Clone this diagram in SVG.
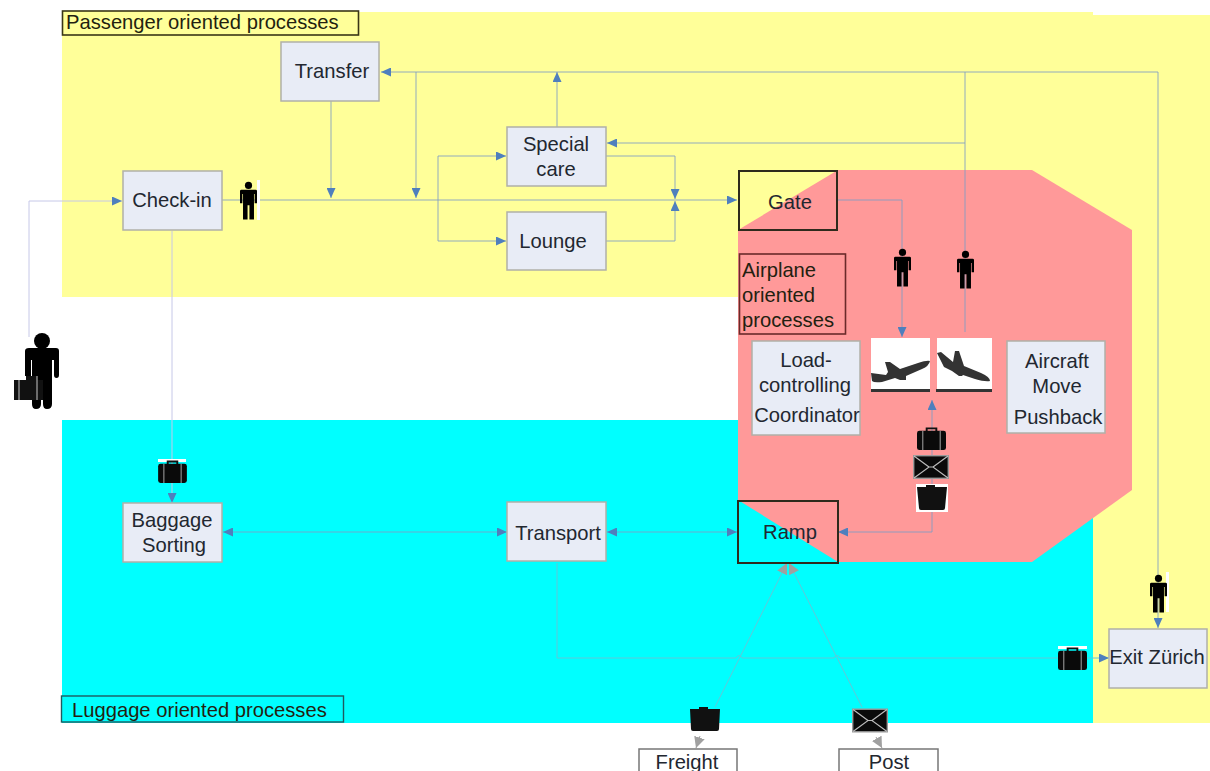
<svg xmlns="http://www.w3.org/2000/svg" width="1210" height="771" viewBox="0 0 1210 771">
<style>
text{font-family:"Liberation Sans",Arial,sans-serif;font-size:20.2px;fill:#222730;text-anchor:middle}
.lbl{text-anchor:start;fill:#231f10}
.box{fill:#e8ecf6;stroke:#b0b0a8;stroke-width:1.5}
.frame{fill:none;stroke:#2e2a1c;stroke-width:2}
.c{fill:none;stroke:#7f9cc4;stroke-width:1;stroke-opacity:.85}
.l{fill:none;stroke:#c6c8e8;stroke-width:1}
.g{fill:none;stroke:#60c8d8;stroke-width:1}
.ah{fill:#4f7fbd}
.gh{fill:#a0a0a0}
</style>
<defs>
<marker id="a" markerWidth="11" markerHeight="9" refX="10" refY="4.500" orient="auto-start-reverse" markerUnits="userSpaceOnUse"><path class="ah" d="M0 0L10 4.500L0 9Z"/></marker>
<marker id="g" markerWidth="12" markerHeight="11" refX="11" refY="5.500" orient="auto-start-reverse" markerUnits="userSpaceOnUse"><path class="gh" d="M0 0L11 5.500L0 11Z"/></marker>
<symbol id="person" viewBox="0 0 18 40" overflow="visible"><circle cx="9" cy="4" r="3.800"/><path d="M1.500 8.500H16.500Q18 8.500 18 10V23H15.500V13H14.800V40H10V25H8V40H3.200V13H2.500V23H0V10Q0 8.500 1.500 8.500Z"/></symbol>
<symbol id="case" viewBox="0 0 30 24"><path fill="none" stroke="#111" stroke-width="2" d="M10 5V1.500H20V5"/><rect y="4" width="30" height="20" rx="2.500" fill="#0a0a0a"/><path stroke="#aaa" stroke-width="1" d="M6 4V24M24 4V24"/></symbol>
<symbol id="env" viewBox="0 0 36 24"><rect x=".7" y=".7" width="34.600" height="22.600" fill="#0a0a0a" stroke="#999" stroke-width="1.400"/><path stroke="#bbb" stroke-width="1.200" fill="none" d="M1 1L16 12M35 1L20 12M1 23L16 12H20L35 23"/></symbol>
</defs>

<g id="zones">
<rect x="62" y="12" width="1031" height="285" fill="#ffff99"/>
<path d="M1093 15H1210V723H1093Z" fill="#ffff99"/>
<rect x="62" y="420" width="1031" height="303" fill="#00ffff"/>
<path d="M838 170H1032L1132 230V490L1032 562H838L738 500V230Z" fill="#ff9999"/>
</g>

<g id="connectors">
<path class="l" d="M29 337V201H122" marker-end="url(#a)"/>
<path class="c" d="M222 200H737" marker-end="url(#a)"/>
<path class="c" d="M331 101V198" marker-end="url(#a)"/>
<path class="c" d="M965 332V72H381" marker-end="url(#a)"/>
<path class="c" d="M416 72V198" marker-end="url(#a)"/>
<path class="c" d="M557 127V72" marker-end="url(#a)"/>
<path class="c" d="M965 143H607" marker-end="url(#a)"/>
<path class="c" d="M965 72H1158V628" marker-end="url(#a)"/>
<path class="c" d="M438 200V156H506" marker-end="url(#a)"/>
<path class="c" d="M438 200V241H506" marker-end="url(#a)"/>
<path class="c" d="M606 156H675V199" marker-end="url(#a)"/>
<path class="c" d="M606 241H675V201" marker-end="url(#a)"/>
<path class="c" d="M838 200H902V337" marker-end="url(#a)"/>
<path class="c" d="M932 532V400" marker-end="url(#a)"/>
<path class="c" d="M932 532H838" marker-end="url(#a)"/>
<path class="c" d="M223 532H507" marker-start="url(#a)" marker-end="url(#a)"/>
<path class="c" d="M607 532H737" marker-start="url(#a)" marker-end="url(#a)"/>
<path class="l" d="M172 231V503" marker-end="url(#a)"/>
<path class="g" d="M557 563V658H736Q739 653 742 658H834Q837 653 840 658H1109" marker-end="url(#a)"/>
<path class="g" d="M715 707L787 563" marker-end="url(#g)"/>
<path class="g" d="M862 707L789 563" marker-end="url(#g)"/>
<path d="M700 736L696 748" fill="none" stroke="#a0a0a0" marker-end="url(#g)"/>
<path d="M876 737L882 748" fill="none" stroke="#a0a0a0" marker-end="url(#g)"/>
</g>

<g id="passenger-label"><rect x="62.500" y="11" width="296" height="24" fill="#ffff99" stroke="#3a3616" stroke-width="1.600"/><text class="lbl" x="66" y="29">Passenger oriented processes</text></g>
<g id="luggage-label"><rect x="61.500" y="696" width="282" height="26" fill="#00ffff" stroke="#1f5a60" stroke-width="1.400"/><text class="lbl" x="72" y="717">Luggage oriented processes</text></g>
<g id="airplane-label"><rect x="739.500" y="254" width="106" height="80" fill="none" stroke="#6a2a2a" stroke-width="1.600"/><text class="lbl" x="742" y="277">Airplane</text><text class="lbl" x="742" y="302">oriented</text><text class="lbl" x="742" y="327">processes</text></g>

<g id="transfer"><rect class="box" x="281" y="42" width="98" height="59"/><text x="332" y="78">Transfer</text></g>
<g id="checkin"><rect class="box" x="123" y="171" width="99" height="59"/><text x="172" y="207">Check-in</text></g>
<g id="special-care"><rect class="box" x="507" y="127" width="99" height="59"/><text x="556" y="151">Special</text><text x="556" y="176">care</text></g>
<g id="lounge"><rect class="box" x="507" y="212" width="99" height="58"/><text x="553" y="248">Lounge</text></g>
<g id="gate"><rect class="frame" x="739" y="171" width="98" height="59"/><text x="790" y="209">Gate</text></g>
<g id="load"><rect class="box" x="752" y="341" width="108" height="94"/><text x="806" y="367">Load-</text><text x="805" y="392">controlling</text><text x="807" y="422">Coordinator</text></g>
<g id="aircraft"><rect class="box" x="1007" y="341" width="98" height="92"/><text x="1057" y="368">Aircraft</text><text x="1057" y="393">Move</text><text x="1058" y="424">Pushback</text></g>
<g id="baggage"><rect class="box" x="123" y="503" width="99" height="59"/><text x="172" y="527">Baggage</text><text x="174" y="552">Sorting</text></g>
<g id="transport"><rect class="box" x="507" y="502" width="99" height="59"/><text x="558" y="540">Transport</text></g>
<g id="ramp"><rect class="frame" x="738" y="501" width="100" height="62"/><text x="790" y="539">Ramp</text></g>
<g id="exit"><rect class="box" x="1109" y="629" width="98" height="59"/><text x="1157" y="664">Exit Zürich</text></g>
<g id="freight"><path d="M639 771V749H737V771" fill="#fff" stroke="#777" stroke-width="1.500"/><text x="687" y="769">Freight</text></g>
<g id="post"><path d="M839 771V749H938V771" fill="#fff" stroke="#777" stroke-width="1.500"/><text x="889" y="769">Post</text></g>

<g id="plane-departing"><rect x="871" y="338" width="59" height="51" fill="#fff"/><rect x="871" y="389" width="59" height="3" fill="#333"/>
<path d="M871 373L886 375L888 372L885 362H890L900 369L918 363Q927 360 930 361Q929 366 922 369L906 376L906 380H900L895 378L882 382Q874 383 872 381Z" fill="#333"/></g>
<g id="plane-landing"><rect x="937" y="338" width="55" height="51" fill="#fff"/><rect x="936" y="389" width="56" height="3" fill="#333"/>
<path d="M937 353L941 352L953 362L955 351H959L964 366L981 373Q990 377 990 381Q985 382 975 379L963 375L962 376H959L952 371L944 367Z" fill="#333"/></g>

<g id="icons">
<rect x="257" y="180" width="3" height="40" fill="#fff"/><use href="#person" x="240" y="181" width="17" height="39"/>
<use href="#person" x="894" y="248" width="17" height="39"/>
<use href="#person" x="957" y="250" width="17" height="39"/>
<rect x="1166" y="572" width="3" height="40" fill="#fff"/><use href="#person" x="1150" y="574" width="17" height="39"/>
<rect x="158" y="459" width="28" height="3" fill="#fff"/><use href="#case" x="158" y="460" width="29" height="23"/>
<use href="#case" x="917" y="426" width="29" height="25"/>
<use href="#env" x="913" y="455" width="36" height="24"/>
<rect x="916" y="484" width="32" height="28" fill="#fff"/><path d="M917 487H926V485H935V487H947L945 508Q945 510 943 510H921Q919 510 919 508Z" fill="#111"/>
<rect x="1058" y="646" width="29" height="3" fill="#fff"/><use href="#case" x="1058" y="646" width="29" height="25"/>
<path d="M690 709H699V707H708V709H720L719 729Q719 731 717 731H693Q691 731 691 729Z" fill="#111"/>
<use href="#env" x="852" y="708" width="36" height="25"/>
<g id="traveller">
<circle cx="42" cy="341" r="8"/>
<path d="M29 348H56Q59 348 59 351V375Q59 378 56.500 378Q54 378 54 375V360H52V404Q52 409 47 409Q43 409 43 404V385H41V404Q41 409 36 409Q32 409 32 404V360H31V376H25V351Q25 348 29 348Z"/>
<path d="M26 380V376H37V380H43V400H14V380Z" fill="#111"/><path stroke="#aaa" stroke-width="1.200" d="M19 380V400M37 376V400"/>
</g>
</g>
</svg>
